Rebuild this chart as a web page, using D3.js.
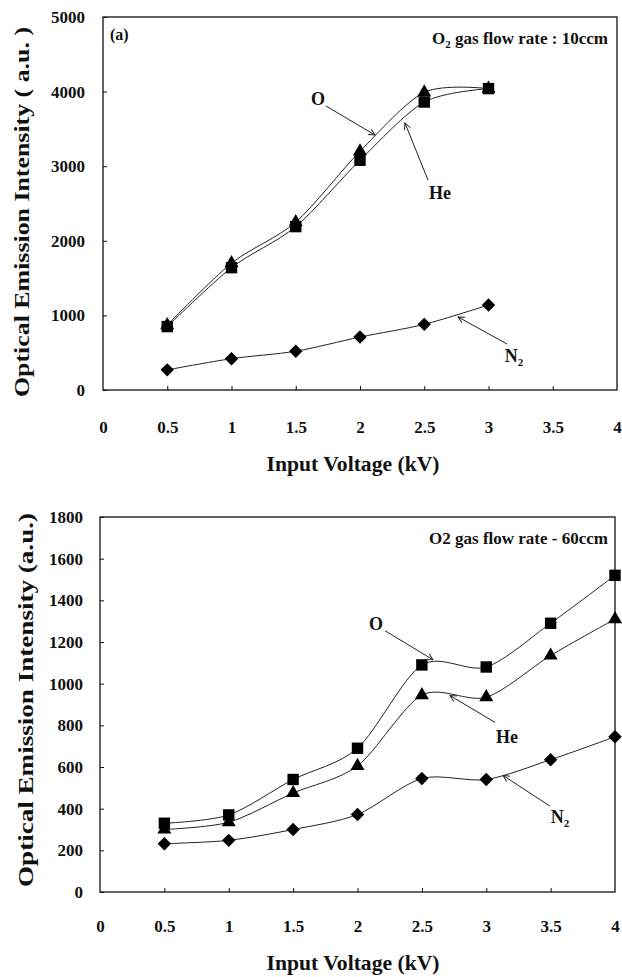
<!DOCTYPE html>
<html>
<head>
<meta charset="utf-8">
<script src="https://cdn.jsdelivr.net/npm/d3@7"></script>
<style>
  body { margin: 0; background: #fff; }
  svg text { font-family: "Liberation Serif", "Times New Roman", serif; font-weight: bold; fill: #111; }
</style>
</head>
<body>
<svg width="622" height="977"></svg>
<script>
// panel (a): O2 flow 10ccm
var voltsA = [0.5, 1, 1.5, 2, 2.5, 3];
var oA   = [850, 1640, 2190, 3080, 3860, 4040];
var heA  = [870, 1700, 2250, 3200, 3990, 4040];
var n2A  = [270, 420, 520, 710, 880, 1140];
var yTicksA = [0, 1000, 2000, 3000, 4000, 5000];

// panel (b): O2 flow 60ccm
var voltsB = [0.5, 1, 1.5, 2, 2.5, 3, 3.5, 4];
var oB   = [330, 370, 540, 690, 1090, 1080, 1290, 1520];
var heB  = [300, 335, 475, 605, 945, 935, 1135, 1310];
var n2B  = [232, 248, 300, 372, 545, 540, 635, 745];
var yTicksB = [0, 200, 400, 600, 800, 1000, 1200, 1400, 1600, 1800];

var xTicks = [0, 0.5, 1, 1.5, 2, 2.5, 3, 3.5, 4];

// arrow labels, in data units: [label, labelX, labelY, tailX, tailY, tipX, tipY]
var notesA = [
    ["O",  1.673, 3820, 1.735, 3807, 2.117, 3418],
    ["He", 2.623, 2560, 2.529, 2815, 2.350, 3579],
    ["N2", 3.198, 375,  3.144, 617,  2.763, 979]
];
var notesB = [
    ["O",  2.144, 1259, 2.214, 1254, 2.586, 1115],
    ["He", 3.161, 713,  3.068, 814,  2.718, 943],
    ["N2", 3.573, 330,  3.495, 412,  3.130, 560]
];

var svg = d3.select("svg");

svg.append("defs").append("marker")
    .attr("id", "arrow")
    .attr("viewBox", "0 0 10 10")
    .attr("refX", 9).attr("refY", 5)
    .attr("markerWidth", 8).attr("markerHeight", 8)
    .attr("markerUnits", "userSpaceOnUse")
    .attr("orient", "auto")
    .append("path")
    .attr("d", "M 1 1 L 9 5 L 1 9")
    .attr("fill", "none")
    .attr("stroke", "#222")
    .attr("stroke-width", 1.2);

function drawPanel(cfg) {
    var x = d3.scaleLinear().domain([0, 4]).range([cfg.left, cfg.right]);
    var y = d3.scaleLinear().domain([0, cfg.yMax]).range([cfg.bottom, cfg.top]);
    var g = svg.append("g");

    // frame
    g.append("rect")
        .attr("x", cfg.left).attr("y", cfg.top)
        .attr("width", cfg.right - cfg.left).attr("height", cfg.bottom - cfg.top)
        .attr("fill", "none").attr("stroke", "#111").attr("stroke-width", 1.3);

    var xAxis = g.append("g")
        .attr("transform", "translate(0," + cfg.bottom + ")")
        .call(d3.axisBottom(x).tickValues(xTicks).tickFormat(d3.format("")).tickSizeInner(-4).tickSizeOuter(0).tickPadding(cfg.xPad));
    xAxis.select(".domain").remove();
    xAxis.selectAll("line").attr("stroke", "#111").filter(d => d === 0 || d === 4).remove();
    xAxis.selectAll("text").attr("font-size", "17px").attr("fill", "#111");

    var yAxis = g.append("g")
        .attr("transform", "translate(" + cfg.left + ",0)")
        .call(d3.axisLeft(y).tickValues(cfg.yTicks).tickFormat(d3.format("d")).tickSizeInner(-4).tickSizeOuter(0).tickPadding(cfg.yPad));
    yAxis.select(".domain").remove();
    yAxis.selectAll("line").attr("stroke", "#111");
    yAxis.selectAll("text").attr("font-size", "17px").attr("fill", "#111");

    // axis titles
    g.append("text")
        .attr("x", 353).attr("y", cfg.xTitleY)
        .attr("text-anchor", "middle")
        .attr("font-size", "21px")
        .attr("textLength", 173).attr("lengthAdjust", "spacingAndGlyphs")
        .text("Input Voltage (kV)");
    g.append("text")
        .attr("transform", "translate(" + cfg.yTitleX + "," + cfg.yTitleMid + ") rotate(-90)")
        .attr("text-anchor", "middle")
        .attr("font-size", "22px")
        .attr("textLength", cfg.yTitleLen).attr("lengthAdjust", "spacingAndGlyphs")
        .text(cfg.yTitle);

    var line = d3.line()
        .x((d, i) => x(cfg.volts[i]))
        .y(d => y(d))
        .curve(d3.curveCardinal.tension(0.15));

    var series = [
        {vals: cfg.n2, shape: "diamond"},
        {vals: cfg.he, shape: "triangle"},
        {vals: cfg.o,  shape: "square"}
    ];
    series.forEach(function(s) {
        g.append("path")
            .datum(s.vals)
            .attr("d", line)
            .attr("fill", "none")
            .attr("stroke", "#222")
            .attr("stroke-width", 1);
    });
    series.forEach(function(s) {
        var sym = s.shape === "triangle" ? d3.symbol(d3.symbolTriangle, 85)
                : d3.symbol(d3.symbolSquare, s.shape === "square" ? 130 : 90);
        var rot = s.shape === "diamond" ? 45 : 0;
        g.append("g").selectAll("path")
            .data(s.vals)
            .join("path")
            .attr("d", sym)
            .attr("transform", (d, i) => "translate(" + x(cfg.volts[i]) + "," + y(d) + ") rotate(" + rot + ")")
            .attr("fill", "#000");
    });

    // arrow annotations
    cfg.notes.forEach(function(n) {
        g.append("line")
            .attr("x1", x(n[3])).attr("y1", y(n[4]))
            .attr("x2", x(n[5])).attr("y2", y(n[6]))
            .attr("stroke", "#222").attr("stroke-width", 1)
            .attr("marker-end", "url(#arrow)");
        var t = g.append("text")
            .attr("x", x(n[1])).attr("y", y(n[2]))
            .attr("text-anchor", "middle")
            .attr("font-size", "18px");
        if (n[0] === "N2") {
            t.append("tspan").text("N");
            t.append("tspan").attr("font-size", "11px").attr("dy", 4).text("2");
        } else {
            t.text(n[0]);
        }
    });

    // flow rate note
    var f = g.append("text")
        .attr("x", 608).attr("y", cfg.top + 27)
        .attr("text-anchor", "end")
        .attr("font-size", "17px");
    if (cfg.sub) {
        f.append("tspan").text("O");
        f.append("tspan").attr("font-size", "11px").attr("dy", 4).text("2");
        f.append("tspan").attr("dy", -4).text(" gas flow rate : 10ccm");
    } else {
        f.text("O2 gas flow rate - 60ccm");
    }
    return g;
}

var gA = drawPanel({
    left: 103, right: 617, top: 17, bottom: 390,
    yMax: 5000, yTicks: yTicksA, xPad: 31, yPad: 18,
    xTitleY: 471, yTitleX: 29, yTitleMid: 212, yTitleLen: 370,
    yTitle: "Optical Emission Intensity ( a.u. )",
    volts: voltsA, o: oA, he: heA, n2: n2A, notes: notesA, sub: true
});
gA.append("text").attr("x", 110).attr("y", 40).attr("font-size", "16px").text("(a)");

drawPanel({
    left: 100, right: 615, top: 517, bottom: 892,
    yMax: 1800, yTicks: yTicksB, xPad: 28, yPad: 17,
    xTitleY: 970, yTitleX: 33, yTitleMid: 700, yTitleLen: 374,
    yTitle: "Optical Emission  Intensity (a.u.)",
    volts: voltsB, o: oB, he: heB, n2: n2B, notes: notesB, sub: false
});
</script>
</body>
</html>
